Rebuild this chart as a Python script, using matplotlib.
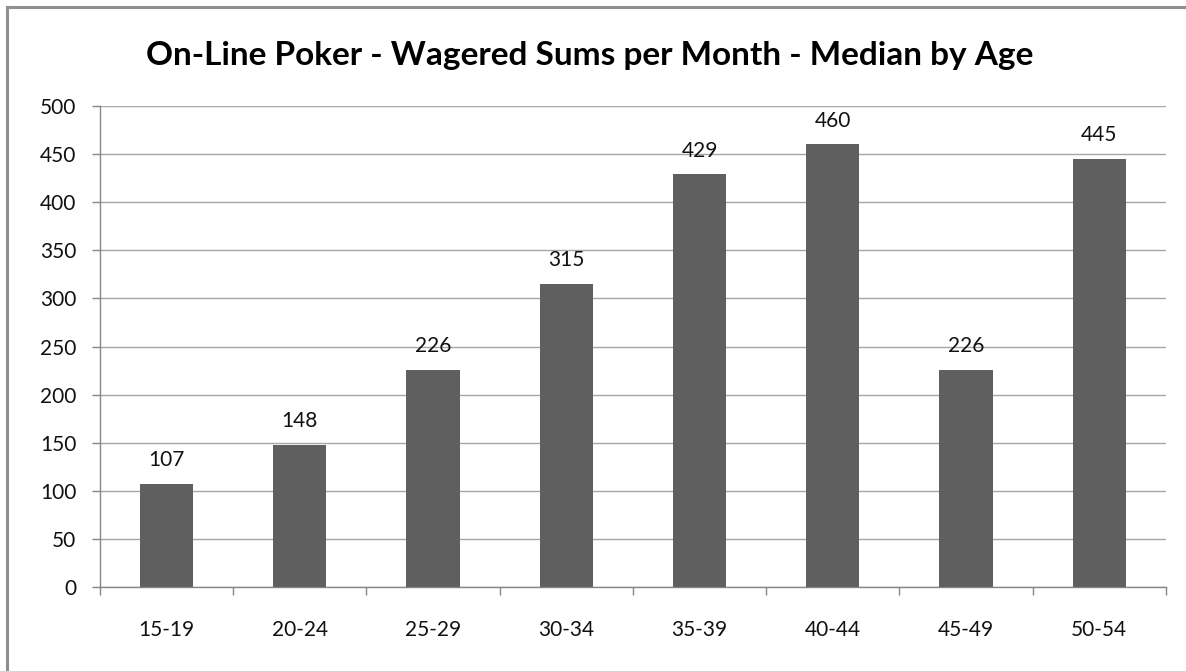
import matplotlib.pyplot as plt
from matplotlib.lines import Line2D
import numpy as np

# Median monthly wagered sums per age bracket
age_groups = ['15-19', '20-24', '25-29', '30-34', '35-39', '40-44', '45-49', '50-54']
median_wager = [107, 148, 226, 315, 429, 460, 226, 445]
y_ticks = list(range(0, 501, 50))

FONT = 'Lato'
AXIS_GRAY = '#868686'
GRID_GRAY = '#a6a6a6'
BAR_GRAY = '#5f5f5f'


def plot_data():
    fig = plt.figure(figsize=(11.86, 6.71), dpi=100)
    ax = fig.add_axes([0.0843, 0.1252, 0.8987, 0.7168])

    x = np.arange(len(age_groups))
    ax.bar(x, median_wager, width=0.4, color=BAR_GRAY, zorder=3)

    # value labels above each bar
    for xi, v in zip(x, median_wager):
        ax.annotate(str(v), (xi, v), xytext=(0, 17), textcoords='offset points',
                    ha='center', va='center', fontsize=15, family=FONT, color='#111111')

    ax.set_xlim(-0.5, len(age_groups) - 0.5)
    ax.set_ylim(0, 500)
    ax.set_yticks(y_ticks)
    ax.set_yticklabels([str(t) for t in y_ticks], family=FONT, fontsize=15)
    ax.set_xticks(x)
    ax.set_xticklabels(age_groups, family=FONT, fontsize=15)
    ax.set_xticks(np.arange(-0.5, len(age_groups)), minor=True)

    ax.grid(axis='y', color=GRID_GRAY, linewidth=1.0, zorder=0)
    ax.tick_params(axis='y', length=6, width=1, color=AXIS_GRAY, pad=11, colors='#111111')
    ax.tick_params(axis='y', color=AXIS_GRAY)
    ax.tick_params(axis='x', which='major', length=0, pad=24, colors='#111111')
    ax.tick_params(axis='x', which='minor', length=6, width=1, color=AXIS_GRAY)

    for side in ['top', 'right']:
        ax.spines[side].set_visible(False)
    for side in ['left', 'bottom']:
        ax.spines[side].set_color(AXIS_GRAY)
        ax.spines[side].set_linewidth(1.0)

    fig.text(0.497, 0.918, 'On-Line Poker - Wagered Sums per Month - Median by Age',
             ha='center', va='center', fontsize=24, fontweight='bold', family=FONT)

    # chart frame along the top and left edges
    fx, fy = 6.5 / 1186, 1 - 6.5 / 671
    fig.add_artist(Line2D([fx, fx], [0, fy], transform=fig.transFigure,
                          color='#8f8f8f', linewidth=2.2))
    fig.add_artist(Line2D([fx, 1], [fy, fy], transform=fig.transFigure,
                          color='#8f8f8f', linewidth=2.2))

    fig.savefig('out.png', dpi=100)


if __name__ == '__main__':
    plot_data()
